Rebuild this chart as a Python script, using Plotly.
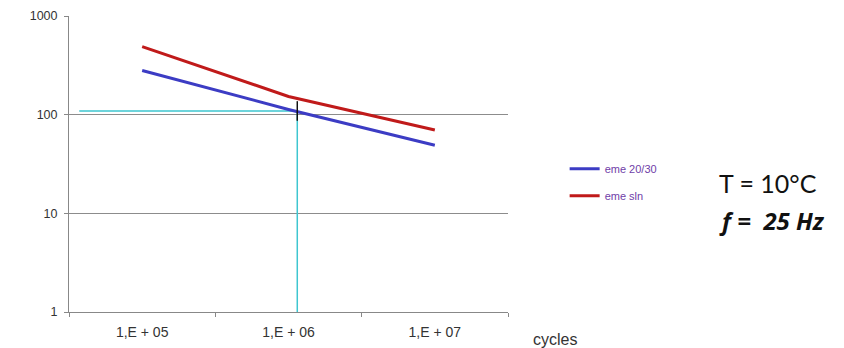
import plotly.graph_objects as go

# ---- data ----
categories = ["1,E + 05", "1,E + 06", "1,E + 07"]
cat_pos = [0, 1, 2]
eme_2030 = [280, 113, 49]
eme_sln = [490, 153, 70]

# reading guide (cyan) drawn on the chart
guide_x = [-0.43, 1.06, 1.06]
guide_y = [109, 109, 1]

y_ticks = [1, 10, 100, 1000]
y_ticklabels = ["1", "10", "100", "1000"]

fig = go.Figure()

fig.add_trace(go.Scatter(
    x=guide_x, y=guide_y, mode="lines", showlegend=False,
    line=dict(color="#3ec6d0", width=1.5), hoverinfo="skip"))

fig.add_trace(go.Scatter(
    x=cat_pos, y=eme_2030, mode="lines", name="eme 20/30",
    legendgroup="a", line=dict(color="#3c3cc4", width=3)))
fig.add_trace(go.Scatter(
    x=cat_pos, y=eme_sln, mode="lines", name="eme sln",
    legendgroup="b", line=dict(color="#c01a1a", width=3)))

fig.add_trace(go.Scatter(
    x=[guide_x[1]], y=[guide_y[1]], mode="markers", showlegend=False,
    marker=dict(symbol="line-ns-open", size=14, color="#111111",
                line=dict(color="#111111", width=1.5)),
    hoverinfo="skip"))

fig.update_layout(
    width=836, height=340,
    margin=dict(l=61, r=336, t=8, b=36, autoexpand=False),
    paper_bgcolor="white", plot_bgcolor="white",
    font=dict(family="Liberation Sans, Arial, sans-serif", size=12, color="#333333"),
    showlegend=True,
    legend=dict(x=1.129, y=0.533, xanchor="left", yanchor="top",
                font=dict(size=11, color="#7040a8"),
                itemwidth=30, tracegroupgap=8, bgcolor="rgba(0,0,0,0)"),
    xaxis=dict(
        range=[-0.5, 2.5], tickvals=cat_pos, ticktext=categories, automargin=False,
        showgrid=False, zeroline=False, showline=True, linecolor="#888888", linewidth=1,
        ticks="", ticklen=0, ticklabelstandoff=7,
        minor=dict(tickvals=[-0.5, 0.5, 1.5, 2.5], ticks="outside", ticklen=4,
                   tickcolor="#888888", showgrid=False),
        tickfont=dict(size=14, color="#333333")),
    yaxis=dict(
        type="log", range=[0, 3], tickvals=y_ticks, ticktext=y_ticklabels, automargin=False,
        showgrid=True, gridcolor="#8c8c8c", gridwidth=1,
        showline=True, linecolor="#888888", linewidth=1,
        ticks="outside", ticklen=4, tickcolor="#888888", ticklabelstandoff=4,
        zeroline=False, tickfont=dict(size=12.5, color="#333333")),
)

fig.add_annotation(text="cycles", xref="paper", yref="paper", x=1.053, y=-0.093,
                   xanchor="left", yanchor="middle", showarrow=False,
                   font=dict(size=16, color="#333333"))
fig.add_annotation(text="T = 10°C", xref="paper", yref="paper", x=1.475, y=0.437,
                   xanchor="left", yanchor="middle", showarrow=False,
                   font=dict(family="Lato, Open Sans, sans-serif", size=25, color="#111111"))
fig.add_annotation(text="<b><i>f =&nbsp;&nbsp;25 Hz</i></b>", xref="paper", yref="paper",
                   x=1.475, y=0.31, xanchor="left", yanchor="middle", showarrow=False,
                   font=dict(family="Open Sans, sans-serif", size=24, color="#111111"))

fig.write_html("out.html")
